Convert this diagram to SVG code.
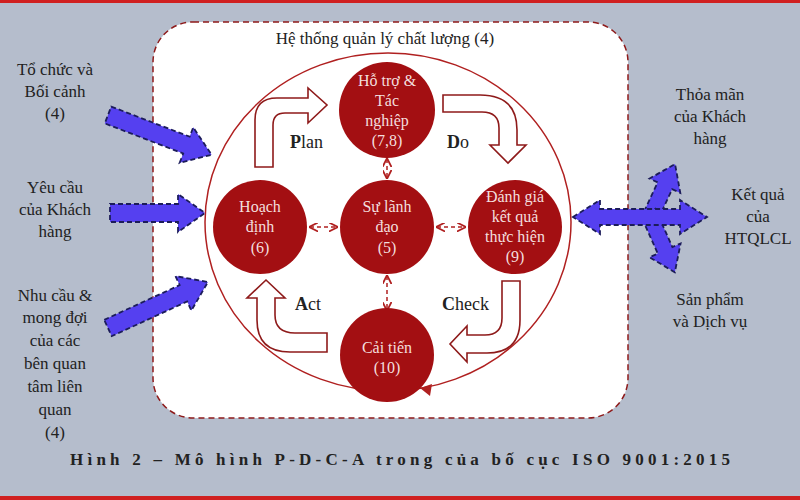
<svg xmlns="http://www.w3.org/2000/svg" width="800" height="500" viewBox="0 0 800 500" font-family="'Liberation Serif','DejaVu Serif','Times New Roman',serif">
<defs>
<style>
text{font-family:'Liberation Serif','DejaVu Serif','Times New Roman',serif}
.t{fill:#222;font-size:17px;text-anchor:middle}
.n{fill:#f3dede;font-size:16px;text-anchor:middle}
.node{fill:#a30f12}
.blk{fill:#fff;stroke:#8e1a1a;stroke-width:1.6}
.ba{fill:#5540f0;stroke:#1c1c5a;stroke-width:1.8;stroke-dasharray:5 3}
.dl{stroke:#b02020;stroke-width:1.5;stroke-dasharray:4 3;fill:none}
.lab{fill:#222;font-size:18px}
</style>
<marker id="da" viewBox="0 0 10 10" refX="9" refY="5" markerWidth="6" markerHeight="6" orient="auto-start-reverse"><path d="M0,0 L10,5 L0,10" fill="none" stroke="#b02020" stroke-width="2"/></marker>
</defs>
<rect width="800" height="500" fill="#b5bdcc"/>
<rect x="0" y="0" width="800" height="3" fill="#d02020"/>
<rect x="0" y="496" width="800" height="4" fill="#d02020"/>
<rect x="153" y="22" width="475" height="396" rx="40" fill="#fff" stroke="#8e1a1a" stroke-width="1.5" stroke-dasharray="6 4"/>
<text class="t" x="385" y="44" font-size="19">Hệ thống quản lý chất lượng (4)</text>
<ellipse cx="388" cy="222" rx="183" ry="169" fill="none" stroke="#b02020" stroke-width="1.5"/>
<path d="M420,388 L432,384 L430,396 Z" fill="#b02020"/>
<g id="connectors">
<line class="dl" x1="310" y1="227" x2="337" y2="227" marker-start="url(#da)" marker-end="url(#da)"/>
<line class="dl" x1="437" y1="227" x2="465" y2="227" marker-start="url(#da)" marker-end="url(#da)"/>
<line class="dl" x1="387" y1="159" x2="387" y2="178" marker-start="url(#da)" marker-end="url(#da)"/>
<line class="dl" x1="387" y1="276" x2="387" y2="310" marker-start="url(#da)" marker-end="url(#da)"/>
<path class="blk" d="M255,167 L255,120 Q255,98 277,98 L308,98 L308,88 L327,105 L308,123 L308,113 L285,113 Q273,113 273,125 L273,167 Z"/>
<path class="blk" d="M443,95 L480,95 Q517,95 517,130 L517,145 L526,145 L508,163 L490,145 L499,145 L499,128 Q499,112 482,112 L443,112 Z"/>
<path class="blk" d="M502,281 L520,281 L520,320 Q520,353 487,353 L467,353 L467,362 L450,344 L467,326 L467,335 L485,335 Q502,335 502,318 Z"/>
<path class="blk" d="M327,333 L295,333 Q275,333 275,315 L275,298 L285,298 L266,280 L247,298 L257,298 L257,320 Q257,352 290,352 L327,352 Z"/>
<path class="ba" transform="translate(108,115) rotate(21)" d="M0,-9 L84,-9 L84,-19 L111,0 L84,19 L84,9 L0,9 Z"/>
<path class="ba" transform="translate(110,213)" d="M0,-9 L68,-9 L68,-19 L95,0 L68,19 L68,9 L0,9 Z"/>
<path class="ba" transform="translate(108,328) rotate(-24.7)" d="M0,-9 L83,-9 L83,-19 L110,0 L83,19 L83,9 L0,9 Z"/>
<path class="ba" transform="translate(648,222) rotate(-65)" d="M0,-8 L40,-8 L40,-17 L64,0 L40,17 L40,8 L0,8 Z"/>
<path class="ba" transform="translate(648,212) rotate(66)" d="M0,-8 L42,-8 L42,-17 L66,0 L42,17 L42,8 L0,8 Z"/>
<path class="ba" d="M573,217 L600,200 L600,209 L680,209 L680,200 L707,217 L680,234 L680,225 L600,225 L600,234 Z"/>
</g>
<g id="n-top"><circle class="node" cx="387" cy="110" r="48"/><text class="n" x="387" y="86">Hỗ trợ  &amp;</text><text class="n" x="387" y="106">Tác</text><text class="n" x="387" y="126">nghiệp</text><text class="n" x="387" y="146">(7,8)</text></g>
<g id="n-left"><circle class="node" cx="260" cy="227" r="47"/><text class="n" x="260" y="212">Hoạch</text><text class="n" x="260" y="232">định</text><text class="n" x="260" y="253">(6)</text></g>
<g id="n-center"><circle class="node" cx="387" cy="227" r="47"/><text class="n" x="387" y="212">Sự lãnh</text><text class="n" x="387" y="232">đạo</text><text class="n" x="387" y="253">(5)</text></g>
<g id="n-right"><circle class="node" cx="515" cy="227" r="47"/><text class="n" x="515" y="202">Đánh giá</text><text class="n" x="515" y="222">kết quả</text><text class="n" x="515" y="242">thực hiện</text><text class="n" x="515" y="262">(9)</text></g>
<g id="n-bottom"><circle class="node" cx="387" cy="355" r="47"/><text class="n" x="387" y="353">Cải tiến</text><text class="n" x="387" y="373">(10)</text></g>
<text class="lab" x="290" y="148"><tspan font-weight="bold">P</tspan>lan</text>
<text class="lab" x="447" y="148"><tspan font-weight="bold">D</tspan>o</text>
<text class="lab" x="295" y="310"><tspan font-weight="bold">A</tspan>ct</text>
<text class="lab" x="442" y="310"><tspan font-weight="bold">C</tspan>heck</text>
<text class="t" x="55" y="75">Tổ chức và</text><text class="t" x="55" y="97">Bối cảnh</text><text class="t" x="55" y="119">(4)</text>
<text class="t" x="55" y="193">Yêu cầu</text><text class="t" x="55" y="215">của Khách</text><text class="t" x="55" y="237">hàng</text>
<text class="t" x="55" y="301">Nhu cầu &amp;</text><text class="t" x="55" y="323">mong đợi</text><text class="t" x="55" y="346">của các</text><text class="t" x="55" y="369">bên quan</text><text class="t" x="55" y="392">tâm liên</text><text class="t" x="55" y="415">quan</text><text class="t" x="55" y="438">(4)</text>
<text class="t" x="710" y="100">Thỏa mãn</text><text class="t" x="710" y="122">của Khách</text><text class="t" x="710" y="144">hàng</text>
<text class="t" x="758" y="200">Kết quả</text><text class="t" x="758" y="222">của</text><text class="t" x="758" y="244">HTQLCL</text>
<text class="t" x="710" y="305">Sản phẩm</text><text class="t" x="710" y="327">và Dịch vụ</text>
<text class="t" x="400" y="465" font-size="27" font-weight="bold" fill="#333" textLength="660" lengthAdjust="spacing">Hình 2 – Mô hình P-D-C-A trong của bố cục ISO 9001:2015</text>
</svg>
